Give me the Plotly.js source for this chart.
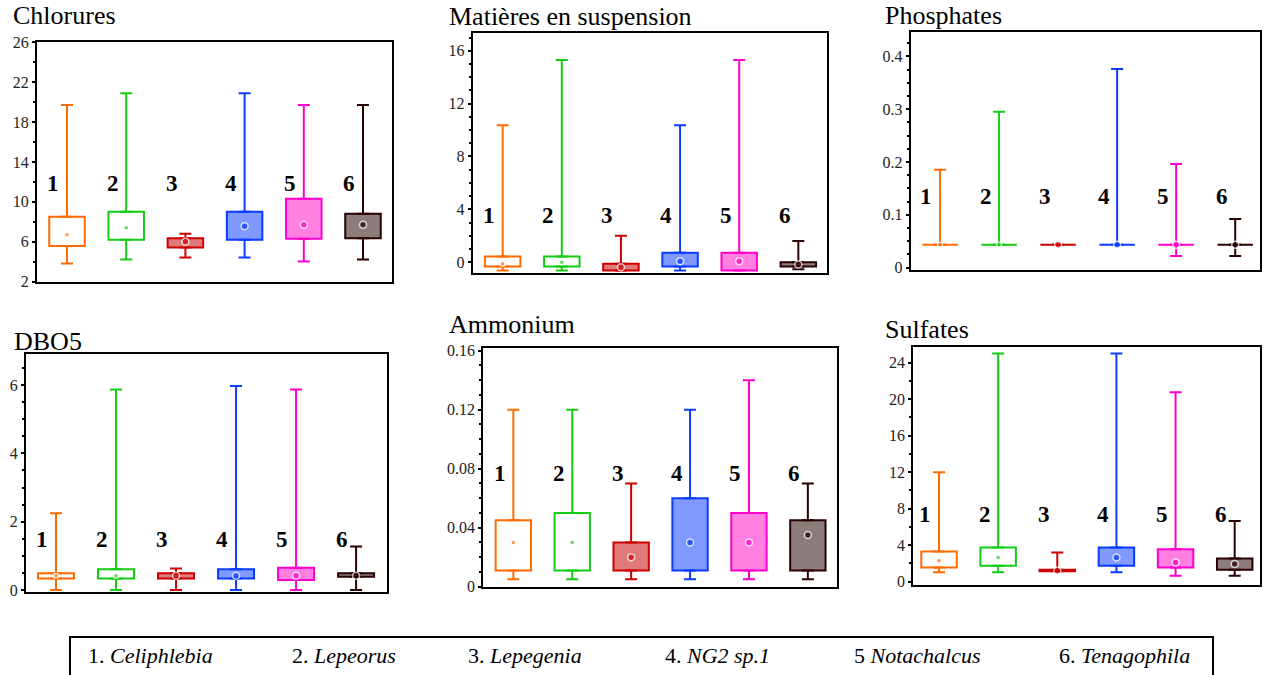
<!DOCTYPE html>
<html><head><meta charset="utf-8">
<script src="https://cdn.plot.ly/plotly-3.0.1.min.js"></script>
<style>html,body{margin:0;padding:0;background:#fff}#chart{width:1267px;height:675px}</style>
</head><body><div id="chart"></div>
<script>
// ---------- data ----------
const groupLabels = ["1", "2", "3", "4", "5", "6"];
const taxaPrefixes = ["1.", "2.", "3.", "4.", "5", "6."];
const taxaNames = ["Celiphlebia", "Lepeorus", "Lepegenia", "NG2 sp.1", "Notachalcus", "Tenagophila"];
const panelTitles = ["Chlorures", "Matières en suspension", "Phosphates", "DBO5", "Ammonium", "Sulfates"];

const chloruresMax = [19.7, 20.9, 6.8, 20.9, 19.7, 19.7];
const chloruresQ3  = [8.5, 9.0, 6.35, 9.0, 10.3, 8.8];
const chloruresMed = [6.7, 7.4, 6.0, 7.55, 7.7, 7.7];
const chloruresQ1  = [5.55, 6.2, 5.4, 6.2, 6.3, 6.35];
const chloruresMin = [3.8, 4.2, 4.4, 4.4, 4.0, 4.2];

const mesMax = [10.36, 15.3, 2.0, 10.36, 15.3, 1.6];
const mesQ3  = [0.43, 0.43, -0.12, 0.71, 0.71, 0.0];
const mesMed = [-0.12, 0.0, -0.38, 0.08, 0.08, -0.17];
const mesQ1  = [-0.33, -0.33, -0.63, -0.33, -0.63, -0.33];
const mesMin = [-0.63, -0.63, -0.63, -0.63, -0.63, -0.53];

const phosphatesMax = [0.185, 0.295, 0.043, 0.376, 0.196, 0.092];
const phosphatesQ3  = [0.043, 0.043, 0.043, 0.043, 0.043, 0.043];
const phosphatesMed = [0.043, 0.043, 0.043, 0.043, 0.043, 0.043];
const phosphatesQ1  = [0.043, 0.043, 0.043, 0.043, 0.043, 0.043];
const phosphatesMin = [0.043, 0.043, 0.043, 0.043, 0.022, 0.022];

const dbo5Max = [2.25, 5.87, 0.63, 5.97, 5.87, 1.27];
const dbo5Q3  = [0.49, 0.61, 0.49, 0.61, 0.65, 0.49];
const dbo5Med = [0.42, 0.42, 0.42, 0.42, 0.42, 0.42];
const dbo5Q1  = [0.34, 0.34, 0.34, 0.34, 0.29, 0.39];
const dbo5Min = [0, 0, 0, 0, 0, 0];

const ammoniumMax = [0.12, 0.12, 0.07, 0.12, 0.14, 0.07];
const ammoniumQ3  = [0.045, 0.05, 0.03, 0.06, 0.05, 0.045];
const ammoniumMed = [0.03, 0.03, 0.02, 0.03, 0.03, 0.035];
const ammoniumQ1  = [0.011, 0.011, 0.011, 0.011, 0.011, 0.011];
const ammoniumMin = [0.005, 0.005, 0.005, 0.005, 0.005, 0.005];

const sulfatesMax = [12, 25, 3.2, 25, 20.75, 6.65];
const sulfatesQ3  = [3.3, 3.75, 1.3, 3.75, 3.55, 2.55];
const sulfatesMed = [2.3, 2.65, 1.2, 2.65, 2.1, 1.95];
const sulfatesQ1  = [1.55, 1.75, 1.15, 1.75, 1.55, 1.3];
const sulfatesMin = [1.05, 1.05, 1.15, 1.05, 0.65, 0.65];

// ---------- styling ----------
const lineColors = ["#FF6A00", "#14CC14", "#CC0000", "#0A3CFF", "#FF00CC", "#2A0000"];
const fillColors = ["#FFFFFF", "#FFFFFF", "#E07A7A", "#7F99FF", "#FF80E0", "#8C7C7C"];
const dotSizes = [5, 5, 7, 7, 7, 7];
const W = 1267, H = 675;
const serif = "Liberation Serif";

const panels = [
  {min: chloruresMin, q1: chloruresQ1, med: chloruresMed, q3: chloruresQ3, max: chloruresMax},
  {min: mesMin, q1: mesQ1, med: mesMed, q3: mesQ3, max: mesMax},
  {min: phosphatesMin, q1: phosphatesQ1, med: phosphatesMed, q3: phosphatesQ3, max: phosphatesMax},
  {min: dbo5Min, q1: dbo5Q1, med: dbo5Med, q3: dbo5Q3, max: dbo5Max},
  {min: ammoniumMin, q1: ammoniumQ1, med: ammoniumMed, q3: ammoniumQ3, max: ammoniumMax},
  {min: sulfatesMin, q1: sulfatesQ1, med: sulfatesMed, q3: sulfatesQ3, max: sulfatesMax}
];

// pixel boxes [left, right, top, bottom]
const panelBoxes = [[37, 392, 42.3, 281.5], [472.7, 827.3, 33.3, 272.5], [910.7, 1260, 31.7, 270],
                    [26, 386.7, 354.3, 591.7], [483.3, 837.3, 347.7, 586.7], [913.3, 1260, 346.7, 585]];
const xRanges = [[-0.507, 5.49], [-0.507, 5.49], [-0.497, 5.42], [-0.5, 5.51], [-0.51, 5.5], [-0.435, 5.428]];
const yRanges = [[2, 26], [-0.78, 17.32], [-0.0047, 0.4466], [-0.05, 6.9], [0, 0.162], [-0.36, 25.75]];
const yDticks = [4, 4, 0.1, 2, 0.04, 4];
const yTick0s = [2, 0, 0, 0, 0, 0];
const yMinor = [2, 1, 0.025, 0.5, 0.01, 2];
const titlePos = [[11, 16], [446.7, 16.5], [882.7, 16], [11.7, 341], [447.3, 324.3], [882.7, 329]];
const labelYFrac = [0.41, 0.24, 0.308, 0.218, 0.474, 0.294];

const traces = [];
const layout = {
  width: W, height: H, margin: {l: 0, r: 0, t: 0, b: 0},
  font: {family: serif, color: "#000"},
  paper_bgcolor: "#fff", plot_bgcolor: "#fff", showlegend: false,
  annotations: [], shapes: []
};

panels.forEach((p, k) => {
  const sfx = k === 0 ? "" : String(k + 1);
  const xa = "x" + sfx, ya = "y" + sfx;
  const [l, r, t, b] = panelBoxes[k];
  layout["xaxis" + sfx] = {
    domain: [l / W, r / W], range: xRanges[k], type: "category", anchor: ya,
    showline: true, mirror: true, linecolor: "#000", linewidth: 2,
    showticklabels: false, ticks: "", showgrid: false, zeroline: false, fixedrange: true
  };
  layout["yaxis" + sfx] = {
    domain: [1 - b / H, 1 - t / H], range: yRanges[k], anchor: xa,
    showline: true, mirror: true, linecolor: "#000", linewidth: 2,
    ticks: "outside", ticklen: 3, tickwidth: 2, tickcolor: "#000",
    tick0: yTick0s[k], dtick: yDticks[k],
    minor: {dtick: yMinor[k], tick0: 0, ticks: "outside", ticklen: 2, tickwidth: 2, tickcolor: "#000"},
    tickfont: {family: serif, size: 16, color: "#222"},
    showgrid: false, zeroline: false, fixedrange: true
  };
  // boxes
  traces.push({
    type: "bar", x: groupLabels, base: p.q1, y: p.q3.map((v, i) => v - p.q1[i]),
    width: 0.6, xaxis: xa, yaxis: ya, hoverinfo: "skip",
    marker: {color: fillColors, line: {color: lineColors, width: 2}}
  });
  // whiskers
  groupLabels.forEach((g, i) => {
    traces.push({
      type: "scatter", mode: "markers", x: [g, g], y: [p.q3[i], p.q1[i]],
      xaxis: xa, yaxis: ya, hoverinfo: "skip", marker: {size: 1, opacity: 0},
      error_y: {type: "data", symmetric: false,
        array: [p.max[i] - p.q3[i], 0], arrayminus: [0, p.q1[i] - p.min[i]],
        color: lineColors[i], thickness: 2, width: 6}
    });
  });
  // median dots
  traces.push({
    type: "scatter", mode: "markers", x: groupLabels, y: p.med, xaxis: xa, yaxis: ya, hoverinfo: "skip",
    marker: {color: lineColors, size: dotSizes, line: {color: "#fff", width: 1.5}}
  });
  // title
  layout.annotations.push({
    text: panelTitles[k], xref: "paper", yref: "paper", x: titlePos[k][0] / W, y: 1 - titlePos[k][1] / H,
    xanchor: "left", yanchor: "middle", showarrow: false, font: {family: serif, size: 26, color: "#000"}
  });
  // group numbers
  groupLabels.forEach((g, i) => {
    layout.annotations.push({
      text: "<b>" + g + "</b>", xref: xa, yref: ya + " domain", x: i - 0.23, y: labelYFrac[k],
      xanchor: "center", yanchor: "middle", showarrow: false, font: {family: serif, size: 23, color: "#000"}
    });
  });
});

// legend box
const legendX = [86, 290, 466, 663, 852, 1057];
layout.shapes.push({type: "rect", xref: "paper", yref: "paper",
  x0: 70 / W, x1: 1213 / W, y0: -0.1, y1: 1 - 637 / H, line: {color: "#000", width: 2}});
taxaNames.forEach((n, i) => {
  layout.annotations.push({
    text: taxaPrefixes[i] + " <i>" + n + "</i>", xref: "paper", yref: "paper",
    x: legendX[i] / W, y: 1 - 655 / H, xanchor: "left", yanchor: "middle", showarrow: false,
    font: {family: serif, size: 22, color: "#000"}
  });
});

Plotly.newPlot("chart", traces, layout, {displayModeBar: false, staticPlot: true});
</script>
</body></html>
